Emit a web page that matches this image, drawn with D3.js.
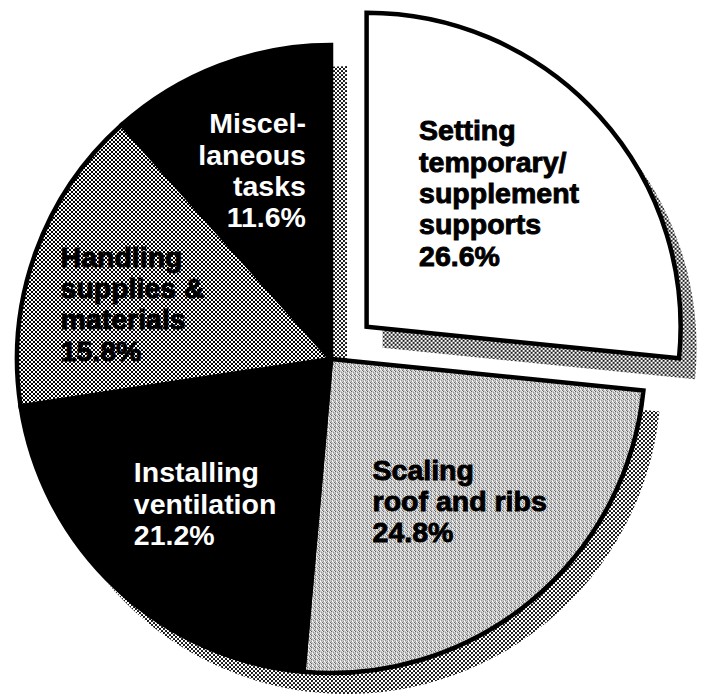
<!DOCTYPE html>
<html>
<head>
<meta charset="utf-8">
<script src="https://cdn.jsdelivr.net/npm/d3@7"></script>
<style>
  html, body { margin: 0; padding: 0; background: #fff; }
  svg { display: block; }
  .lbl { font-family: "Liberation Sans", Arial, sans-serif; font-weight: bold; }
</style>
</head>
<body>
<svg id="chart" width="712" height="698"></svg>
<script>
// Share of working time by task (percent)
const categories = [
  "Setting temporary/supplement supports",
  "Scaling roof and ribs",
  "Installing ventilation",
  "Handling supplies & materials",
  "Miscellaneous tasks"
];
const shares = [26.6, 24.8, 21.2, 15.8, 11.6];
const labelLines = [
  ["Setting", "temporary/", "supplement", "supports"],
  ["Scaling", "roof and ribs"],
  ["Installing", "ventilation"],
  ["Handling", "supplies &", "materials"],
  ["Miscel-", "laneous", "tasks"]
];

// Appearance of each slice
const sliceFills = ["#ffffff", "url(#fineGray)", "#000000", "url(#checker)", "#000000"];
const textFills = ["#000", "#000", "#fff", "#000", "#fff"];
const textHeavy = [true, true, false, true, false];
const explodeBy = [48, 0, 0, 0, 0];
// Label placement: fraction of radius along the slice bisector, angle nudge (deg), alignment
const labelPlace = [
  { r: 0.60, dA: -3.2, align: "start" },
  { r: 0.61, dA: -2.6, align: "start" },
  { r: 0.61, dA: -2.1, align: "start" },
  { r: 0.656, dA: -4.2, align: "start" },
  { r: 0.652, dA: -1.8, align: "end" }
];

const W = 712, H = 698;
const cx = 331, cy = 359, R = 314;
const shadowDx = 16, shadowDy = 21;
const fontSize = 28.5, lineH = 31.3, capH = 0.716 * fontSize;

const svg = d3.select("#chart");
const defs = svg.append("defs");

// Dotted screen used for the drop shadow
const pDots = defs.append("pattern").attr("id", "dots")
  .attr("patternUnits", "userSpaceOnUse").attr("width", 4).attr("height", 4);
pDots.append("rect").attr("width", 4).attr("height", 4).attr("fill", "#fff");
pDots.append("circle").attr("cx", 1).attr("cy", 1).attr("r", 1.05).attr("fill", "#000");
pDots.append("circle").attr("cx", 3).attr("cy", 3).attr("r", 1.05).attr("fill", "#000");

// Coarse checkerboard screen
const pCheck = defs.append("pattern").attr("id", "checker")
  .attr("patternUnits", "userSpaceOnUse").attr("width", 4).attr("height", 4);
pCheck.append("rect").attr("width", 4).attr("height", 4).attr("fill", "#fff");
pCheck.append("rect").attr("x", 0).attr("y", 0).attr("width", 2).attr("height", 2).attr("fill", "#000").attr("shape-rendering", "crispEdges");
pCheck.append("rect").attr("x", 2).attr("y", 2).attr("width", 2).attr("height", 2).attr("fill", "#000").attr("shape-rendering", "crispEdges");

// Fine light-gray screen
const pFine = defs.append("pattern").attr("id", "fineGray")
  .attr("patternUnits", "userSpaceOnUse").attr("width", 4).attr("height", 4);
pFine.append("rect").attr("width", 4).attr("height", 4).attr("fill", "#c6c6c6");
[[0, 0, "#626262"], [2, 1, "#8e8e8e"], [1, 2, "#ffffff"], [3, 3, "#6c6c6c"],
 [2, 3, "#eeeeee"], [0, 2, "#9c9c9c"], [3, 0, "#f2f2f2"], [1, 1, "#e2e2e2"]]
  .forEach(([x, y, c]) => pFine.append("rect").attr("x", x).attr("y", y)
    .attr("width", 1).attr("height", 1).attr("fill", c).attr("shape-rendering", "crispEdges"));

const pie = d3.pie().sort(null).value(d => d).startAngle(0).endAngle(2 * Math.PI);
const arcs = pie(shares);
const arc = d3.arc().innerRadius(0).outerRadius(R);

function offsetOf(d, i) {
  const mid = (d.startAngle + d.endAngle) / 2;
  return [Math.sin(mid) * explodeBy[i], -Math.cos(mid) * explodeBy[i]];
}

// Drop shadow
const gShadow = svg.append("g").attr("transform", `translate(${cx + shadowDx},${cy + shadowDy})`);
gShadow.selectAll("path").data(arcs).join("path")
  .attr("transform", (d, i) => `translate(${offsetOf(d, i)})`)
  .attr("d", arc)
  .attr("fill", "url(#dots)")
  .attr("stroke", "none");

// Slices
const gPie = svg.append("g").attr("transform", `translate(${cx},${cy})`);
gPie.selectAll("path").data(arcs).join("path")
  .attr("transform", (d, i) => `translate(${offsetOf(d, i)})`)
  .attr("d", arc)
  .attr("fill", (d, i) => sliceFills[i])
  .attr("stroke", "#000")
  .attr("stroke-width", 4.5)
  .attr("stroke-linejoin", "miter");

// Labels
const fmt = d3.format(".1f");
const gLbl = gPie.append("g");
arcs.forEach((d, i) => {
  const p = labelPlace[i];
  const [ox, oy] = offsetOf(d, i);
  const a = (d.startAngle + d.endAngle) / 2 + p.dA * Math.PI / 180;
  const bx = ox + Math.sin(a) * R * p.r;
  const by = oy - Math.cos(a) * R * p.r;
  const lines = labelLines[i].concat([fmt(shares[i]) + "%"]);
  const blockH = capH + (lines.length - 1) * lineH;
  const y0 = by - blockH / 2 + capH;
  const t = gLbl.append("text").attr("class", "lbl")
    .attr("font-size", fontSize)
    .attr("fill", textFills[i])
    .attr("stroke", textHeavy[i] ? textFills[i] : "none")
    .attr("stroke-width", textHeavy[i] ? 0.9 : 0)
    .attr("text-anchor", p.align);
  const spans = lines.map((s, k) => t.append("tspan").attr("y", y0 + k * lineH).text(s));
  const wMax = d3.max(spans, s => s.node().getComputedTextLength());
  const xL = bx - wMax / 2;
  spans.forEach(s => s.attr("x", p.align === "end" ? xL + wMax : xL));
});
</script>
</body>
</html>
